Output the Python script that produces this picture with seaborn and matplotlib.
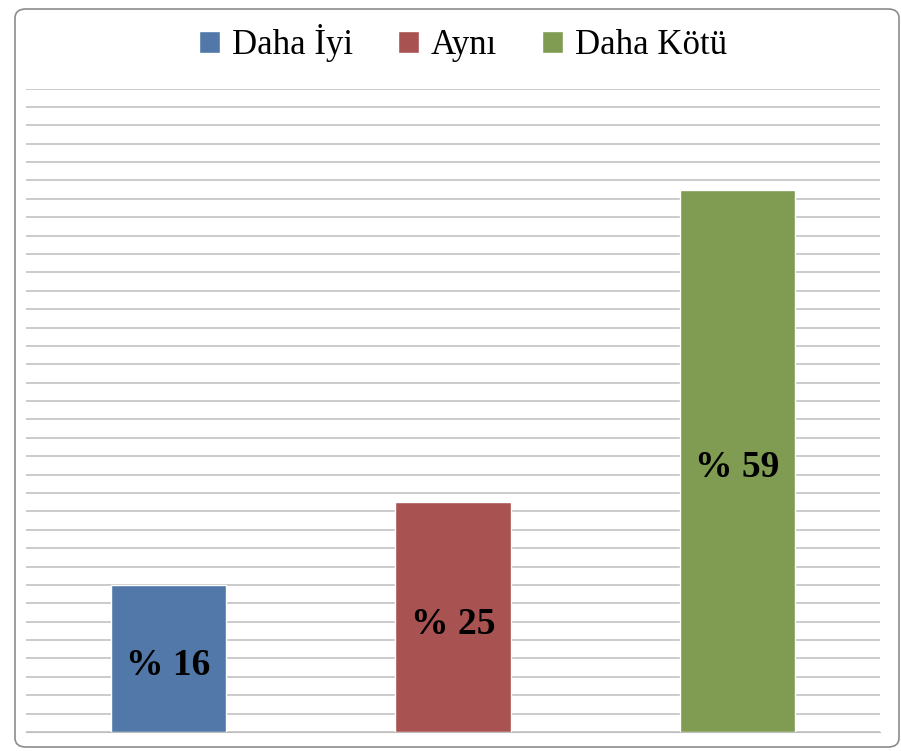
import matplotlib.pyplot as plt
from matplotlib.patches import FancyBboxPatch, Patch
import numpy as np
import pandas as pd
import seaborn as sns

# data
categories = ['Daha İyi', 'Aynı', 'Daha Kötü']
values = [16, 25, 59]
labels = ['% 16', '% 25', '% 59']
colors = ['#5178A9', '#A85252', '#7F9C52']

sns.set_style("white")
plt.rcParams['font.family'] = ['Liberation Serif', 'DejaVu Serif']

df = pd.DataFrame({'cat': categories, 'val': values})

fig = plt.figure(figsize=(9.01, 7.51), dpi=100)
# rounded frame around the chart
frame = FancyBboxPatch((15 / 901, 4 / 751), 884 / 901, 738 / 751,
                       boxstyle='round,pad=0,rounding_size=0.012',
                       transform=fig.transFigure, fill=False,
                       edgecolor='#8C8C8C', linewidth=1.2)
fig.patches.append(frame)

ax = fig.add_axes([26 / 901, 1 - 732 / 751, 854 / 901, (732 - 88.5) / 751])
sns.barplot(data=df, x='cat', y='val', hue='cat', palette=colors, saturation=1,
            width=0.404, legend=False, ax=ax, zorder=3)

ax.set_ylim(0, 70)
ax.set_yticks(np.arange(0, 71, 2))
ax.yaxis.grid(True, color='#BDBDBD', linewidth=1.1, zorder=0)
ax.set_axisbelow(True)
ax.tick_params(left=False, bottom=False, labelleft=False, labelbottom=False)
ax.set_xlabel('')
ax.set_ylabel('')
for s in ['top', 'left', 'right']:
    ax.spines[s].set_visible(False)
ax.spines['bottom'].set_color('#BDBDBD')

# value labels in the middle of each bar, a bit lower like the original
for i, (v, lab) in enumerate(zip(values, labels)):
    ax.annotate(lab, (i, v / 2), xytext=(0, -5), textcoords='offset points',
                ha='center', va='center', fontsize=27,
                fontweight='bold', color='black', zorder=5)

handles = [Patch(facecolor=c, edgecolor='white') for c in colors]
leg = fig.legend(handles, categories, loc='center', bbox_to_anchor=(463 / 901, 1 - 43 / 751),
                 ncol=3, frameon=False, fontsize=25, handlelength=0.6, handleheight=0.6,
                 handletextpad=0.35, columnspacing=1.3)
for t in leg.get_texts():
    t.set_color('black')

plt.savefig('out.png', dpi=100)
